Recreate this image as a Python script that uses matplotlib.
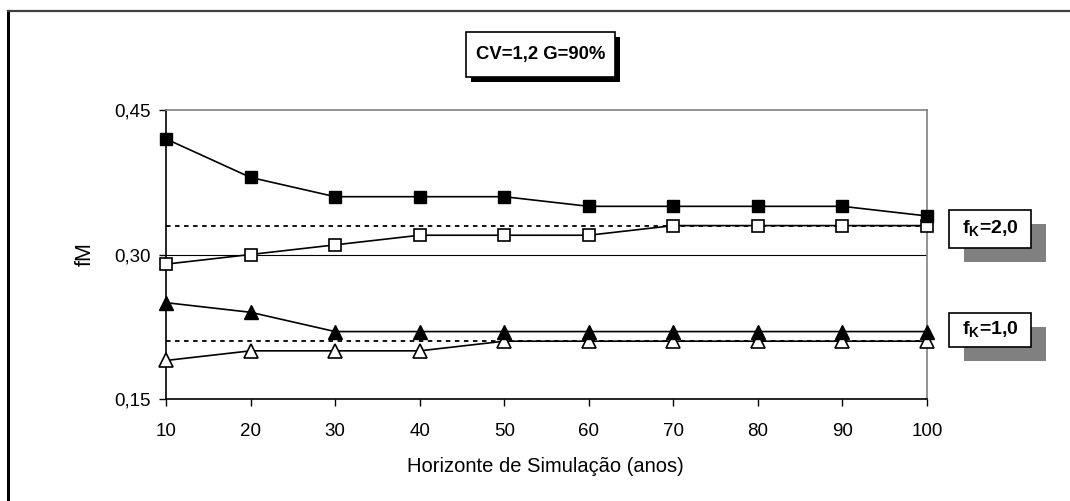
import matplotlib.pyplot as plt
from matplotlib.patches import Rectangle
from matplotlib.lines import Line2D

plt.rcParams["font.family"] = ["Liberation Sans", "DejaVu Sans"]
plt.rcParams["mathtext.fontset"] = "custom"
plt.rcParams["mathtext.rm"] = "Liberation Sans"
plt.rcParams["mathtext.bf"] = "Liberation Sans:bold"

# data
horizon = [10, 20, 30, 40, 50, 60, 70, 80, 90, 100]
fk2_upper = [0.42, 0.38, 0.36, 0.36, 0.36, 0.35, 0.35, 0.35, 0.35, 0.34]
fk2_lower = [0.29, 0.30, 0.31, 0.32, 0.32, 0.32, 0.33, 0.33, 0.33, 0.33]
fk1_upper = [0.25, 0.24, 0.22, 0.22, 0.22, 0.22, 0.22, 0.22, 0.22, 0.22]
fk1_lower = [0.19, 0.20, 0.20, 0.20, 0.21, 0.21, 0.21, 0.21, 0.21, 0.21]
ref_levels = [0.33, 0.21]
ref_labels = ["f$_{\\mathbf{K}}$=2,0", "f$_{\\mathbf{K}}$=1,0"]
y_ticks = [0.15, 0.30, 0.45]
title_text = "CV=1,2 G=90%"

W, H = 1070, 501
fig = plt.figure(figsize=(W / 100, H / 100), dpi=100)

ax = fig.add_axes([166 / W, (H - 399) / H, (927 - 166) / W, (399 - 110) / H])
ax.set_xlim(horizon[0], horizon[-1])
ax.set_ylim(y_ticks[0], y_ticks[-1])

ax.axhline(0.30, color="black", lw=0.8, zorder=1)
for lvl in ref_levels:
    ax.plot([horizon[0], horizon[-1]], [lvl, lvl], color="black", lw=1.3,
            linestyle=(0, (2.5, 2.5)), zorder=2)

ax.plot(horizon, fk2_upper, color="black", lw=1.2, marker="s", ms=8.5,
        mfc="black", mec="black", clip_on=False, zorder=4)
ax.plot(horizon, fk2_lower, color="black", lw=1.2, marker="s", ms=8.5,
        mfc="white", mec="black", mew=1.2, clip_on=False, zorder=3)
ax.plot(horizon, fk1_upper, color="black", lw=1.2, marker="^", ms=9.5,
        mfc="black", mec="black", clip_on=False, zorder=4)
ax.plot(horizon, fk1_lower, color="black", lw=1.2, marker="^", ms=9.5,
        mfc="white", mec="black", mew=1.2, clip_on=False, zorder=3)

ax.set_xticks(horizon)
ax.set_xticklabels([str(h) for h in horizon])
ax.set_yticks(y_ticks)
ax.set_yticklabels([f"{v:.2f}".replace(".", ",") for v in y_ticks])
ax.tick_params(direction="out", length=5, width=1, labelsize=13.5)
ax.tick_params(axis="x", pad=12)
ax.tick_params(axis="y", pad=6)

for side in ["top", "right"]:
    ax.spines[side].set_color("#808080")
    ax.spines[side].set_linewidth(1.2)
for side in ["left", "bottom"]:
    ax.spines[side].set_color("black")
    ax.spines[side].set_linewidth(1.2)

fig.text(85 / W, 1 - 254 / H, "fM", rotation=90, fontsize=15.5,
         ha="center", va="center")
fig.text(545 / W, 1 - 466 / H, "Horizonte de Simulação (anos)", fontsize=14.5,
         ha="center", va="center")

# outer chart frame (only top and left edges fall inside the picture)
fig.add_artist(Line2D([8 / W, 8 / W], [0, 1 - 11 / H], transform=fig.transFigure,
                      color="black", lw=2.2))
fig.add_artist(Line2D([8 / W, 1], [1 - 11 / H, 1 - 11 / H], transform=fig.transFigure,
                      color="#404040", lw=1.6))


def boxed_text(x0, y0, x1, y1, text, shadow_color, dx, dy, size):
    fig.add_artist(Rectangle(((x0 + dx) / W, 1 - (y1 + dy) / H), (x1 - x0) / W,
                             (y1 - y0) / H, transform=fig.transFigure,
                             facecolor=shadow_color, edgecolor="none", zorder=5))
    fig.add_artist(Rectangle((x0 / W, 1 - y1 / H), (x1 - x0) / W, (y1 - y0) / H,
                             transform=fig.transFigure, facecolor="white",
                             edgecolor="black", lw=1.2, zorder=6))
    fig.text((x0 + x1) / 2 / W, 1 - (y0 + y1) / 2 / H, text, fontsize=size,
             fontweight="bold", ha="center", va="center", zorder=7)


boxed_text(466, 32, 615, 77, title_text, "black", 5, 5, 13.3)
boxed_text(949, 210, 1031, 248, ref_labels[0], "#808080", 15, 14, 14)
boxed_text(949, 313, 1031, 347, ref_labels[1], "#808080", 15, 14, 14)

fig.savefig("out.png", dpi=100)
